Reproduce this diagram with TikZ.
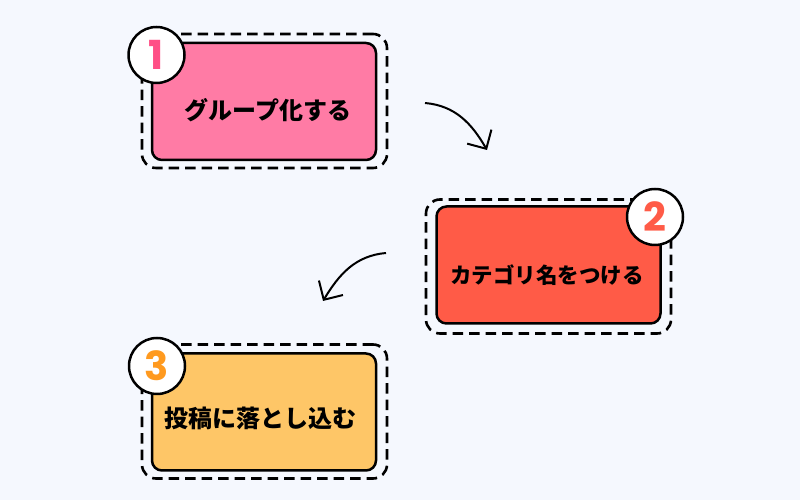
\documentclass[tikz,border=0pt]{standalone}
\usepackage{fontspec}
\newfontfamily\cjk{Noto Sans CJK JP}
\newfontfamily\numfont{Poppins}
\usetikzlibrary{arrows.meta}
\definecolor{bgblue}{HTML}{F5F8FE}
\definecolor{pinkbox}{HTML}{FF7BA5}
\definecolor{pinknum}{HTML}{FF4F86}
\definecolor{redbox}{HTML}{FF5B47}
\definecolor{orangebox}{HTML}{FEC667}
\definecolor{orangenum}{HTML}{FF9A1F}
\begin{document}
\begin{tikzpicture}[x=1pt,y=1pt]
	\fill[bgblue] (0,0) rectangle (800,500);
	\useasboundingbox (0,0) rectangle (800,500);
	
	\begin{scope}[every node/.style={draw,line width=2.6pt,dash pattern=on 10.5pt off 6pt,rounded corners=14pt,minimum width=245pt,minimum height=134pt}]
		\node (F1) at (264.5,399) {};
		\node (F2) at (548.5,233.5) {};
		\node (F3) at (264.5,88.5) {};
	\end{scope}
	
	\begin{scope}[every node/.style={draw,line width=2.5pt,rounded corners=10pt,minimum width=224pt,minimum height=117pt}]
		\node[fill=pinkbox] (B1) at (264,398.5) {};
		\node[fill=redbox] (B2) at (548.5,235) {};
		\node[fill=orangebox] (B3) at (264,88) {};
	\end{scope}
	
	\begin{scope}[every node/.style={font=\cjk\bfseries\fontsize{24}{28}\selectfont}]
		\node (T1) at (268,390) {グループ化する};
		\node[font=\cjk\bfseries\fontsize{21.5}{26}\selectfont] (T2) at (547,225) {カテゴリ名をつける};
		\node (T3) at (260,82) {投稿に落とし込む};
	\end{scope}
	
	\begin{scope}[every node/.style={circle,draw,fill=white,line width=2.5pt,minimum size=56pt,inner sep=0pt,font=\numfont\bfseries\fontsize{40}{40}\selectfont}]
		\node[text=pinknum] (N1) at (156.5,445) {1};
		\node[text=redbox] (N2) at (655,283) {2};
		\node[text=orangenum] (N3) at (157,134) {3};
	\end{scope}
	
	\coordinate (A1s) at (425,397);
	\coordinate (A1e) at (487,350);
	\coordinate (A2s) at (386,247);
	\coordinate (A2e) at (323,199);
	\begin{scope}[line width=2pt,-{Straight Barb[length=14pt,width=28pt]}]
		\path (A1s) edge[out=-5,in=120] (A1e);
		\path (A2s) edge[out=185,in=59] (A2e);
	\end{scope}
\end{tikzpicture}
\end{document}
